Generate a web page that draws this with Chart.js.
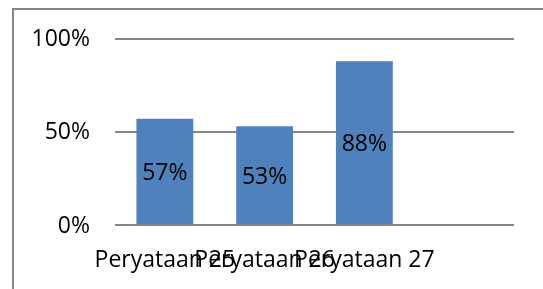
<!DOCTYPE html>
<html>
<head>
<meta charset="utf-8">
<script src="https://cdn.jsdelivr.net/npm/chart.js@4.4.1/dist/chart.umd.min.js"></script>
<style>
html,body{margin:0;padding:0;background:#fff;}
#wrap{width:543px;height:289px;position:relative;}
</style>
</head>
<body>
<div id="wrap"><canvas id="c" width="543" height="289"></canvas></div>
<script>
const categories = ['Peryataan 25', 'Peryataan 26', 'Peryataan 27', ''];
const values = [0.57, 0.53, 0.88, null];
const valueLabels = ['57%', '53%', '88%', ''];
const yTickValues = [0, 0.5, 1];
const yTickLabels = ['0%', '50%', '100%'];

const FONT = '"Open Sans", Lato, sans-serif';
const FSIZE = 23;

const borderPlugin = {
  id: 'frame',
  beforeDraw(chart) {
    const ctx = chart.ctx;
    ctx.save();
    ctx.strokeStyle = '#868686';
    ctx.lineWidth = 2;
    ctx.beginPath();
    ctx.moveTo(13, 289);
    ctx.lineTo(13, 9);
    ctx.lineTo(543, 9);
    ctx.stroke();
    ctx.restore();
  }
};

const labelPlugin = {
  id: 'barLabels',
  afterDatasetsDraw(chart) {
    const ctx = chart.ctx;
    const meta = chart.getDatasetMeta(0);
    ctx.save();
    ctx.fillStyle = '#000';
    ctx.font = FSIZE + 'px ' + FONT;
    ctx.textAlign = 'center';
    ctx.textBaseline = 'middle';
    meta.data.forEach((bar, i) => {
      if (values[i] == null) return;
      const mid = (bar.y + bar.base) / 2;
      ctx.fillText(valueLabels[i], bar.x, mid + 2);
    });
    ctx.restore();
  }
};

new Chart(document.getElementById('c'), {
  type: 'bar',
  data: {
    labels: categories,
    datasets: [{
      data: values,
      backgroundColor: '#4F81BD',
      borderWidth: 0,
      barPercentage: 0.57,
      categoryPercentage: 1.0
    }]
  },
  options: {
    responsive: false,
    animation: false,
    events: [],
    layout: { padding: { left: 0, top: 37, right: 29, bottom: 0 } },
    plugins: { legend: { display: false }, tooltip: { enabled: false } },
    scales: {
      x: {
        grid: { display: false, drawTicks: false },
        border: { display: false },
        ticks: {
          color: '#000',
          font: { family: FONT, size: FSIZE },
          padding: 22,
          maxRotation: 0,
          autoSkip: false
        },
        afterFit(scale) { scale.height = 64; }
      },
      y: {
        min: 0, max: 1,
        afterBuildTicks(scale) { scale.ticks = yTickValues.map(v => ({ value: v })); },
        grid: { color: '#868686', lineWidth: 2, drawTicks: false },
        border: { display: false },
        ticks: {
          color: '#000',
          font: { family: FONT, size: FSIZE },
          padding: 25,
          labelOffset: 1,
          callback: (v) => yTickLabels[yTickValues.indexOf(v)]
        },
        afterFit(scale) { scale.width = 115; }
      }
    }
  },
  plugins: [borderPlugin, labelPlugin]
});
</script>
</body>
</html>
